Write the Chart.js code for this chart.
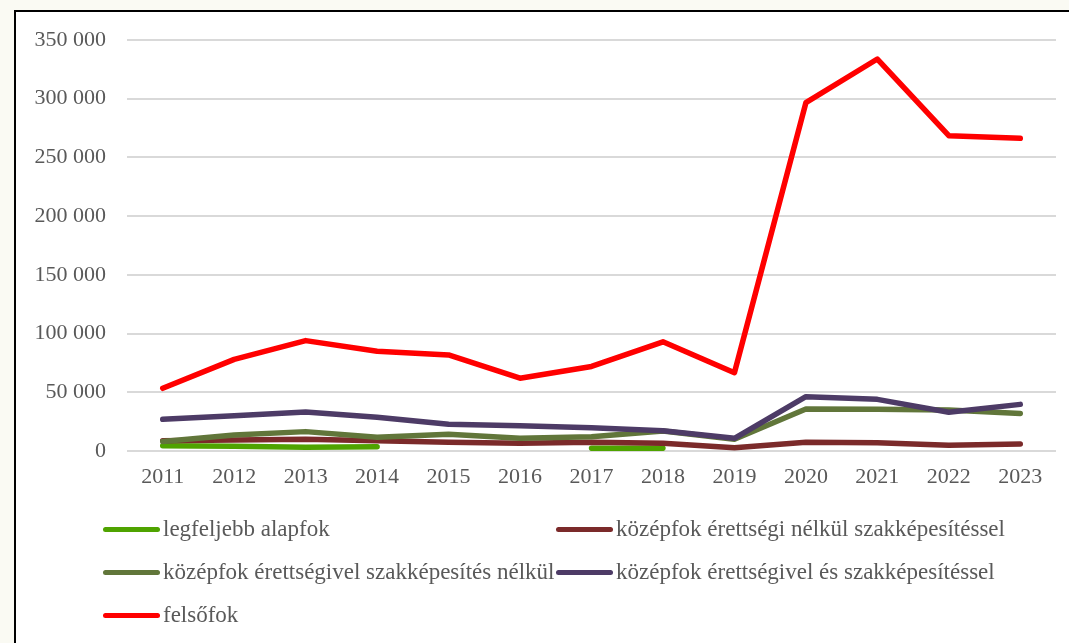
<!DOCTYPE html>
<html>
<head>
<meta charset="utf-8">
<script src="https://cdn.jsdelivr.net/npm/chart.js@4/dist/chart.umd.min.js"></script>
<style>
  html, body { margin: 0; padding: 0; background: #fafaf3; width: 1069px; height: 643px; overflow: hidden; }
  #frame { position: absolute; left: 14px; top: 10px; width: 1100px; height: 700px; background: #ffffff;
           border-left: 2px solid #000; border-top: 2px solid #000; }
  #c { position: absolute; left: 0; top: 0; }
  #legend { position: absolute; left: 0; top: 0; width: 1069px; height: 643px; pointer-events: none;
            font-family: "Liberation Serif", "Times New Roman", serif; font-size: 23px; color: #595959; }
  .item { position: absolute; display: flex; align-items: center; white-space: nowrap; height: 30px; }
  .swatch { width: 57px; height: 5px; border-radius: 3px; margin-right: 3px; }
</style>
</head>
<body>
<div id="frame"></div>
<canvas id="c" width="1069" height="643"></canvas>
<div id="legend"></div>
<script>
const years = ['2011','2012','2013','2014','2015','2016','2017','2018','2019','2020','2021','2022','2023'];

const seriesNames = [
  'legfeljebb alapfok',
  'középfok érettségi nélkül szakképesítéssel',
  'középfok érettségivel szakképesítés nélkül',
  'középfok érettségivel és szakképesítéssel',
  'felsőfok'
];
const seriesColors = ['#4fa300', '#7b2a2a', '#61763a', '#4d3b66', '#ff0000'];

const alapfok      = [4500, 4000, 3100, 3700, null, null, 2300, 2300, null, null, null, null, null];
const erettsegiNelkul = [8800, 9400, 10000, 8800, 7400, 6500, 7400, 6500, 2800, 7400, 7000, 4800, 6000];
const erettsegivelNelkul = [8000, 13600, 16500, 11700, 14200, 10800, 12200, 17000, 10000, 35800, 35500, 35000, 32000];
const erettsegivelEs = [27000, 30000, 33200, 28700, 22700, 21600, 19900, 17300, 10800, 46300, 44000, 33000, 39700];
const felsofok     = [53400, 78000, 94000, 85000, 81800, 62000, 72000, 93000, 66700, 296600, 333800, 268500, 266300];

const yTicks = [0, 50000, 100000, 150000, 200000, 250000, 300000, 350000];

const seriesData = [alapfok, erettsegiNelkul, erettsegivelNelkul, erettsegivelEs, felsofok];

function fmt(v) { return String(v).replace(/\B(?=(\d{3})+(?!\d))/g, ' '); }

const datasets = seriesData.map((d, i) => ({
  label: seriesNames[i],
  data: d,
  borderColor: seriesColors[i],
  backgroundColor: seriesColors[i],
  borderWidth: 5.5,
  borderCapStyle: 'round',
  borderJoinStyle: 'round',
  pointRadius: 0,
  pointHoverRadius: 0,
  tension: 0,
  spanGaps: false,
  fill: false,
  order: seriesData.length - i
}));

const axisFont = { family: '"Liberation Serif", "Times New Roman", serif', size: 22 };

new Chart(document.getElementById('c'), {
  type: 'line',
  data: { labels: years, datasets },
  options: {
    responsive: false,
    animation: false,
    devicePixelRatio: 1,
    layout: { padding: { top: 40, right: 13, bottom: 0, left: 0 } },
    plugins: { legend: { display: false }, tooltip: { enabled: false } },
    scales: {
      x: {
        offset: true,
        grid: { display: false, drawTicks: false },
        border: { display: false },
        ticks: { color: '#595959', font: axisFont, padding: 13, maxRotation: 0, autoSkip: false },
        afterFit: s => { s.height = 643 - 451; }
      },
      y: {
        min: 0, max: 350000,
        afterBuildTicks: s => { s.ticks = yTicks.map(v => ({ value: v })); },
        grid: { color: '#d9d9d9', lineWidth: 2, drawTicks: false },
        border: { display: false },
        ticks: { color: '#595959', font: axisFont, padding: 21, callback: v => fmt(v) },
        afterFit: s => { s.width = 127; }
      }
    }
  }
});

const legend = document.getElementById('legend');
const colX = [103, 556];
const rowY = [529, 572, 615];
seriesNames.forEach((name, i) => {
  const it = document.createElement('div');
  it.className = 'item';
  it.style.left = colX[i % 2] + 'px';
  it.style.top = (rowY[Math.floor(i / 2)] - 15) + 'px';
  const sw = document.createElement('div');
  sw.className = 'swatch';
  sw.style.background = seriesColors[i];
  const tx = document.createElement('span');
  tx.textContent = name;
  it.appendChild(sw);
  it.appendChild(tx);
  legend.appendChild(it);
});
</script>
</body>
</html>
